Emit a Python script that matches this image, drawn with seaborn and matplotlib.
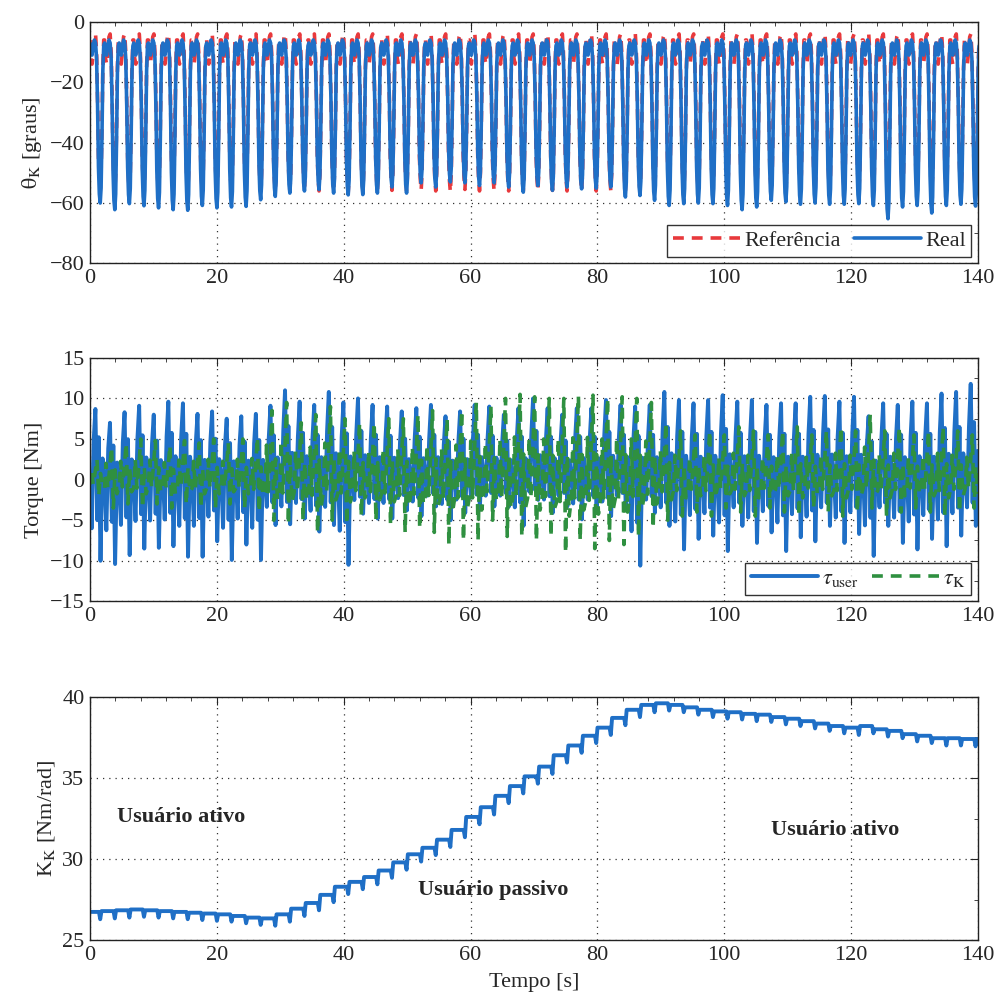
import numpy as np
import pandas as pd
import matplotlib
matplotlib.use("Agg")
import matplotlib.pyplot as plt
from matplotlib.ticker import MultipleLocator
import seaborn as sns

# ---- values ----
period = 2.3          # gait cycle length [s]
n_cycles = 61

# knee angle, per cycle minimum [graus]
real_trough = [-60, -62.2, -60.2, -60.9, -61.6, -62.2, -62.4, -60.8, -61.6, -61.3,
               -61.1, -58.9, -57.8, -56.7, -56.0, -55.5, -56.7, -57.3, -57.2, -56.7,
               -54.7, -56.7, -53.3, -54.7, -53.0, -53.3, -54.2, -53.3, -54.7, -56.4,
               -54.2, -55.8, -54.7, -55.3, -55.1, -54.7, -58.0, -57.5, -59.1, -60.8,
               -60.2, -60.0, -60.2, -60.8, -62.2, -61.3, -59.1, -59.6, -60.4, -60.0,
               -60.4, -60.4, -60.2, -60.8, -65.2, -61.3, -60.8, -63.3, -60.8, -60.4,
               -61.0]
ref_trough = [-56, -56, -56, -56, -56, -56, -56, -56, -56, -56,
              -56, -56, -56, -56, -54.5, -56, -56, -56.5, -55.5, -56,
              -55.8, -56, -55.8, -56, -56.3, -55.5, -56, -56, -56, -56,
              -56, -55.8, -56, -56, -56, -56, -56, -56, -56, -56,
              -56, -56, -56, -56, -56, -56, -56, -56, -56, -56,
              -56, -56, -56, -56, -56, -56, -56, -56, -56, -56,
              -56]
# one nominal knee cycle (trough scaled to the values above)
knee_phase = [0.00, 0.06, 0.14, 0.22, 0.30, 0.38, 0.45, 0.52, 0.58, 0.64, 0.70, 0.76, 0.82, 0.88, 0.94]
knee_real_shape = [-7, -10, -11, -8, -6, -7, -12, -28, -48, -57, -60, -55, -38, -16, -8]
knee_ref_shape = [-6, -12, -14, -10, -5, -4, -10, -28, -48, -56, -60, -54, -38, -16, -6]

# torque, per cycle max / min [Nm]
tu_max = [8.7, 7.0, 8.3, 9.1, 8.0, 9.6, 9.4, 8.1, 8.4, 7.5, 7.8, 8.1, 9.1, 11.0, 9.6,
          9.2, 10.8, 9.5, 10.0, 9.2, 9.0, 8.4, 8.8, 9.2, 7.8, 8.4, 9.2, 9.0, 8.0, 8.8,
          10.0, 8.8, 8.0, 8.8, 8.8, 9.8, 9.2, 9.0, 9.2, 10.8, 9.8, 9.4, 9.8, 10.4, 9.6,
          9.8, 9.2, 9.4, 9.4, 10.2, 10.3, 9.6, 10.2, 7.8, 9.4, 9.2, 9.6, 9.4, 10.6, 10.8,
          11.8]
tu_min = [-10, -10.4, -9.3, -8.5, -8.4, -8.2, -9.5, -9.5, -7.6, -9.9, -8.0, -9.9, -5.6, -5.5, -4.8,
          -6.4, -5.6, -10.5, -4.2, -4.8, -4.8, -3.8, -4.5, -3.3, -5.0, -4.1, -3.7, -3.3, -3.3, -5.7,
          -2.5, -4.1, -3.3, -4.9, -4.1, -4.5, -3.3, -10.6, -4.1, -5.7, -8.6, -7.3, -6.9, -8.8, -5.7,
          -7.8, -6.5, -8.8, -7.1, -7.6, -5.7, -7.8, -6.7, -9.4, -5.7, -7.8, -8.6, -7.3, -8.2, -6.9,
          -5.7]
tk_max = [2.5, 4.0, 4.5, 5.0, 4.8, 4.2, 4.8, 4.5, 5.0, 4.5, 5.0, 5.2, 8.5, 9.5, 7.0,
          8.0, 9.0, 7.5, 7.0, 7.0, 7.5, 7.5, 8.0, 8.5, 7.5, 8.5, 9.5, 9.0, 10.0, 10.5,
          10.2, 10.0, 10.0, 10.3, 10.4, 10.0, 10.2, 10.0, 9.5, 7.0, 6.0, 5.5, 6.0, 5.5, 6.5,
          6.0, 5.5, 6.0, 6.5, 5.5, 6.0, 6.5, 6.0, 8.0, 6.0, 6.5, 5.5, 6.0, 6.5, 6.0,
          5.5]
tk_min = [-2.0, -3.5, -3.0, -3.5, -3.0, -3.5, -3.0, -3.5, -3.5, -3.0, -3.5, -4.0, -5.0, -5.5, -5.0,
          -6.5, -5.0, -5.5, -4.5, -5.0, -5.5, -6.5, -6.0, -6.5, -8.0, -7.5, -7.5, -5.0, -7.0, -7.0,
          -7.5, -7.0, -9.0, -7.5, -8.5, -7.5, -8.0, -7.0, -6.0, -5.0, -4.5, -4.0, -4.5, -3.5, -4.0,
          -4.5, -3.5, -4.0, -4.5, -3.5, -4.0, -4.5, -4.0, -3.5, -4.5, -4.0, -3.5, -4.0, -4.5, -4.0,
          -3.5]
tu_phase = [0.00, 0.12, 0.25, 0.37, 0.50, 0.60, 0.72, 0.86]
tu_shape = [0.05, -0.6, 0.55, 1.0, -0.5, 0.6, -1.0, 0.3]
tk_phase = [0.00, 0.10, 0.22, 0.35, 0.48, 0.60, 0.72, 0.85]
tk_shape = [-0.3, 0.5, -0.3, 0.35, 1.0, -1.0, 0.3, -0.5]

# stiffness level between notches [Nm/rad]
k_level = [26.75, 26.8, 26.85, 26.9, 26.85, 26.8, 26.75, 26.7, 26.65, 26.6,
           26.5, 26.4, 26.35, 26.6, 26.95, 27.3, 27.8, 28.3, 28.6, 28.9,
           29.3, 29.8, 30.3, 30.7, 31.2, 31.8, 32.6, 33.2, 33.9, 34.5,
           35.1, 35.7, 36.4, 37.0, 37.6, 38.1, 38.7, 39.2, 39.5, 39.6,
           39.5, 39.35, 39.2, 39.1, 39.05, 38.95, 38.9, 38.75, 38.65, 38.5,
           38.35, 38.2, 38.1, 38.2, 38.0, 37.9, 37.7, 37.6, 37.45, 37.45,
           37.4, 37.4]
k_notch = 0.45

# ---- build the series ----
def cycles(shape, phase, scale_fn):
    t, v = [], []
    for k in range(n_cycles):
        for p, s in zip(phase, shape):
            t.append((k + p) * period)
            v.append(scale_fn(k, s))
    return np.array(t), np.array(v)

t_ang, ang_real = cycles(knee_real_shape, knee_phase,
                         lambda k, s: s if s > -15 else s * real_trough[k] / -60)
_, ang_ref = cycles(knee_ref_shape, knee_phase,
                    lambda k, s: s if s > -15 else s * ref_trough[k] / -60)
t_tu, tq_user = cycles(tu_shape, tu_phase,
                       lambda k, s: s * tu_max[k] if s > 0 else -s * tu_min[k])
t_tk, tq_k = cycles(tk_shape, tk_phase,
                    lambda k, s: s * tk_max[k] if s > 0 else -s * tk_min[k])

t_k, kk = [0.0], [k_level[0]]
for k in range(n_cycles):
    tn = (k + 0.70) * period
    t_k += [tn - 0.2, tn, tn + 0.2]
    kk += [k_level[k], k_level[k] - k_notch, k_level[k + 1]]
t_k.append(140.0)
kk.append(k_level[-1])

df_ang = pd.DataFrame({"t": t_ang, "real": ang_real, "ref": ang_ref})
df_tu = pd.DataFrame({"t": t_tu, "user": tq_user})
df_tk = pd.DataFrame({"t": t_tk, "k": tq_k})
df_k = pd.DataFrame({"t": t_k, "K": kk})

# ---- style ----
sns.set_style("white")
plt.rcParams["font.family"] = ["Liberation Serif", "DejaVu Serif"]
plt.rcParams["mathtext.fontset"] = "stix"
plt.rcParams["font.size"] = 16

blue = "#1f6fc6"
red = "#e8393c"
green = "#2f9040"

fig = plt.figure(figsize=(10, 9.94), dpi=100)
ax1 = fig.add_axes([0.09, 0.735, 0.888, 0.243])
ax2 = fig.add_axes([0.09, 0.395, 0.888, 0.245])
ax3 = fig.add_axes([0.09, 0.054, 0.888, 0.245])

sns.lineplot(data=df_ang, x="t", y="ref", ax=ax1, color=red, lw=2.6, ls=(0, (3, 2.2)),
             estimator=None, sort=False, label="Referência")
sns.lineplot(data=df_ang, x="t", y="real", ax=ax1, color=blue, lw=2.6,
             estimator=None, sort=False, label="Real")
sns.lineplot(data=df_tu, x="t", y="user", ax=ax2, color=blue, lw=2.8,
             estimator=None, sort=False, label=r"$\tau_{\mathrm{user}}$")
sns.lineplot(data=df_tk, x="t", y="k", ax=ax2, color=green, lw=2.6, ls=(0, (3, 2.2)),
             estimator=None, sort=False, label=r"$\tau_{\mathrm{K}}$")
sns.lineplot(data=df_k, x="t", y="K", ax=ax3, color=blue, lw=2.8,
             estimator=None, sort=False)

ax1.set_ylim(-80, 0)
ax1.yaxis.set_major_locator(MultipleLocator(20))
ax1.yaxis.set_minor_locator(MultipleLocator(10))
ax1.set_ylabel(r"$\mathrm{\theta}_{\mathrm{K}}$ [graus]")
ax2.set_ylim(-15, 15)
ax2.yaxis.set_major_locator(MultipleLocator(5))
ax2.yaxis.set_minor_locator(MultipleLocator(2.5))
ax2.set_ylabel("Torque [Nm]")
ax3.set_ylim(25, 40)
ax3.yaxis.set_major_locator(MultipleLocator(5))
ax3.yaxis.set_minor_locator(MultipleLocator(2.5))
ax3.set_ylabel(r"K$_{\mathrm{K}}$ [Nm/rad]")
ax3.set_xlabel("Tempo [s]", labelpad=6)

for ax in (ax1, ax2, ax3):
    ax.set_xlim(0, 140)
    ax.xaxis.set_major_locator(MultipleLocator(20))
    ax.xaxis.set_minor_locator(MultipleLocator(4))
    ax.grid(True, which="major", ls=(0, (1, 4)), color="#333333", lw=0.9)
    ax.tick_params(which="both", direction="in", top=True, right=True, labelsize=16, pad=4)
    ax.tick_params(which="major", length=6)
    ax.tick_params(which="minor", length=3)
    for sp in ax.spines.values():
        sp.set_color("#222222")
        sp.set_linewidth(1.0)
    if ax is not ax3:
        ax.set_xlabel("")

for ax in (ax1, ax2):
    leg = ax.legend(loc="lower right", ncol=2, frameon=True, fancybox=False,
                    edgecolor="black", handlelength=3.0, columnspacing=0.6,
                    handletextpad=0.2, borderpad=0.25, borderaxespad=0.3, fontsize=16)
    leg.get_frame().set_linewidth(1.0)

ax3.text(14.3, 32.6, "Usuário ativo", ha="center", va="center", fontweight="bold", fontsize=16)
ax3.text(63.5, 28.1, "Usuário passivo", ha="center", va="center", fontweight="bold", fontsize=16)
ax3.text(117.5, 31.8, "Usuário ativo", ha="center", va="center", fontweight="bold", fontsize=16)

fig.savefig("out.png", dpi=100)
